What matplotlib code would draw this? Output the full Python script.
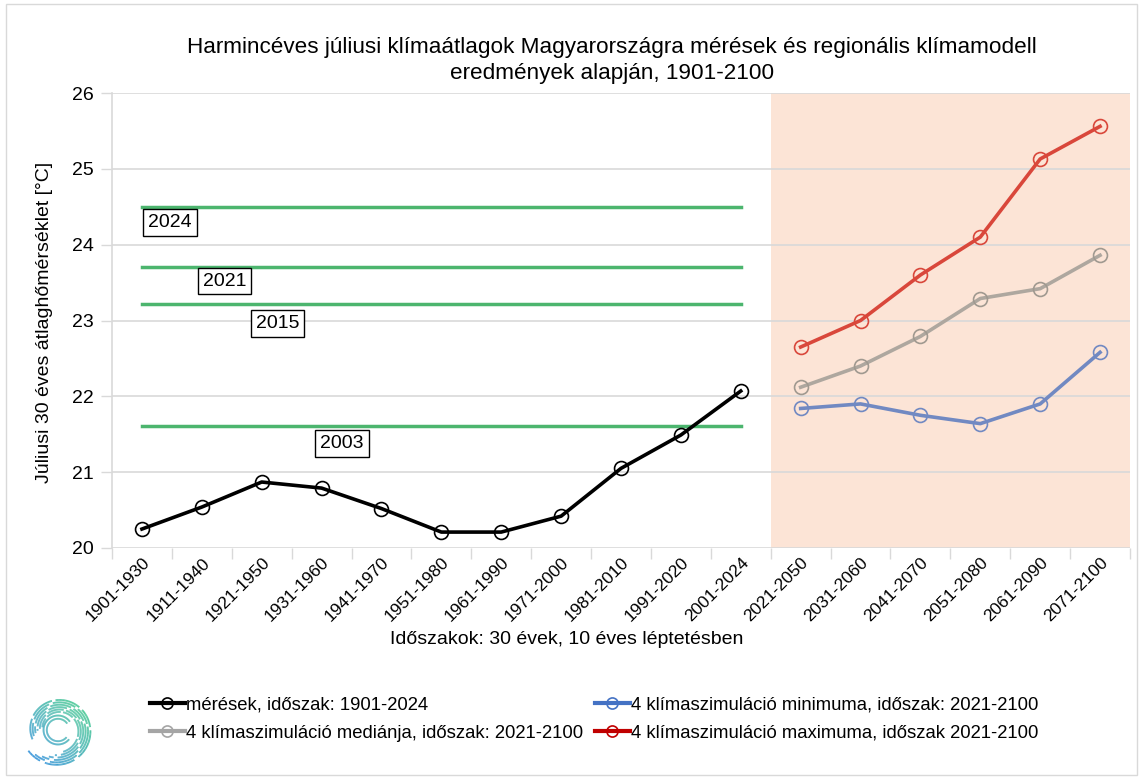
import numpy as np
import matplotlib
matplotlib.use("Agg")
import matplotlib.pyplot as plt
from matplotlib.lines import Line2D
from matplotlib.patches import Rectangle

plt.rcParams['font.family'] = ['Liberation Sans', 'DejaVu Sans']

categories = ["1901-1930", "1911-1940", "1921-1950", "1931-1960", "1941-1970",
              "1951-1980", "1961-1990", "1971-2000", "1981-2010", "1991-2020",
              "2001-2024", "2021-2050", "2031-2060", "2041-2070", "2051-2080",
              "2061-2090", "2071-2100"]
measured = [20.25, 20.54, 20.87, 20.79, 20.52, 20.21, 20.21, 20.42, 21.05, 21.49, 22.07]
sim_median = [22.12, 22.40, 22.79, 23.29, 23.42, 23.86]
sim_min = [21.84, 21.90, 21.75, 21.64, 21.90, 22.58]
sim_max = [22.65, 23.00, 23.60, 24.10, 25.13, 25.56]
record_years = ["2024", "2021", "2015", "2003"]
record_values = [24.50, 23.71, 23.22, 21.61]
record_label_x = [0.47, 1.38, 2.27, 3.34]     # category index of label centre
record_label_dy = [0.21, 0.19, 0.26, 0.23]    # label offset below line
y_ticks = [20, 21, 22, 23, 24, 25, 26]

labels_legend = ["mérések, időszak: 1901-2024",
                 "4 klímaszimuláció mediánja, időszak: 2021-2100",
                 "4 klímaszimuláció minimuma, időszak: 2021-2100",
                 "4 klímaszimuláció maximuma, időszak 2021-2100"]

W, H = 1143, 779
fig = plt.figure(figsize=(W / 100, H / 100), dpi=100)
fig.patches.append(Rectangle((6 / W, 4 / H), 1 - 12 / W, 1 - 8 / H, transform=fig.transFigure,
                             fill=False, ec="#d9d9d9", lw=1))

ax = fig.add_axes([112 / W, 1 - 548 / H, (1130 - 112) / W, (548 - 93) / H])
n = len(categories)
ax.set_xlim(-0.5, n - 0.5)
ax.set_ylim(20, 26)

nm = len(measured)
x_meas = np.arange(nm)
x_fut = np.arange(nm, n)

ax.axvspan(nm - 0.5, n - 0.5, color="#fce4d6", zorder=0, lw=0)
for yv in y_ticks:
    ax.axhline(yv, color="#d9d9d9", lw=1.2, zorder=1)

for s in ["top", "right", "bottom"]:
    ax.spines[s].set_visible(False)
ax.spines["left"].set_color("#d9d9d9")
ax.spines["left"].set_linewidth(1.2)

ax.set_yticks(y_ticks)
ax.set_yticklabels([str(v) for v in y_ticks], fontsize=14)
ax.tick_params(axis="y", length=8, color="#d9d9d9", width=1, pad=5)

ax.set_xticks(np.arange(n))
ax.set_xticklabels(categories, rotation=45, ha="right", rotation_mode="anchor", fontsize=12.5)
ax.tick_params(axis="x", length=0, pad=5)
ax.set_xticks(np.arange(-0.5, n, 1.0), minor=True)
ax.tick_params(axis="x", which="minor", length=8, color="#d9d9d9", width=1)

green = "#4cb56e"
for yr, val, lx, dy in zip(record_years, record_values, record_label_x, record_label_dy):
    ax.plot([0, nm - 1], [val, val], color=green, lw=2.5, zorder=2)
    ax.text(lx, val - dy, yr, ha="center", va="center", fontsize=14, zorder=6,
            bbox=dict(boxstyle="square,pad=0.25", fc="white", ec="black", lw=1))

ax.plot(x_meas, measured, color="black", lw=2.6, marker="o", ms=10, mfc="none",
        mec="black", mew=1.2, zorder=4)
ax.plot(x_fut, sim_median, color="#aea79f", lw=2.6, marker="o", ms=10, mfc="none",
        mec="#a09990", mew=1.2, zorder=4)
ax.plot(x_fut, sim_min, color="#7189c2", lw=2.6, marker="o", ms=10, mfc="none",
        mec="#7189c2", mew=1.2, zorder=4)
ax.plot(x_fut, sim_max, color="#d9473b", lw=2.6, marker="o", ms=10, mfc="none",
        mec="#d9473b", mew=1.2, zorder=4)

fig.text(612 / W, 1 - 47 / H, "Harmincéves júliusi klímaátlagok Magyarországra mérések és regionális klímamodell",
         ha="center", va="center", fontsize=16.2)
fig.text(612 / W, 1 - 73 / H, "eredmények alapján, 1901-2100", ha="center", va="center", fontsize=16.2)

fig.text(45 / W, 1 - 322 / H, "Júliusi 30 éves átlaghőmérséklet [°C]", rotation=90,
         ha="center", va="center", fontsize=14)
fig.text(567 / W, 1 - 639 / H, "Időszakok: 30 évek, 10 éves léptetésben", ha="center", va="center",
         fontsize=14)

def handle(color, mec):
    return Line2D([], [], color=color, lw=3, marker="o", ms=8, mfc="none", mec=mec, mew=1.2)

h1 = [handle("black", "black"), handle("#a5a5a5", "#a5a5a5")]
h2 = [handle("#4472c4", "#4472c4"), handle("#c00000", "#c00000")]
fig.legend(h1, labels_legend[:2], loc="upper left", bbox_to_anchor=(133 / W, 1 - 680 / H),
           frameon=False, fontsize=13.3, handlelength=1.9, handletextpad=0.05, labelspacing=0.6)
fig.legend(h2, labels_legend[2:], loc="upper left", bbox_to_anchor=(578 / W, 1 - 680 / H),
           frameon=False, fontsize=13.3, handlelength=1.9, handletextpad=0.05, labelspacing=0.6)

# logo (decorative spiral)
lax = fig.add_axes([20 / W, 1 - 770 / H, 76 / W, 80 / H])
lax.set_xlim(-1.05, 1.05)
lax.set_ylim(-1.1, 1.1)
lax.set_aspect("equal")
lax.axis("off")
c0 = np.array([0x2e, 0x90, 0xd8]) / 255
c1 = np.array([0x3c, 0xc8, 0x88]) / 255
gaps = [(-120, -112), (-60, -54), (0, 5), (40, 46), (95, 101), (150, 156)]
for k in range(6):
    th0, th1 = -145 + 12 * k, 200 - 6 * k
    t = np.linspace(th0, th1, 240)
    r = 1.0 - 0.075 * k - 0.25 * (t - th0) / 345.0
    keep = np.ones_like(t, dtype=bool)
    for g0, g1 in gaps:
        keep &= ~((t > g0 + 7 * k) & (t < g1 + 7 * k))
    tr = np.radians(t)
    xs, ys = r * np.cos(tr), r * np.sin(tr)
    for i in range(len(t) - 1):
        if keep[i] and keep[i + 1]:
            f = np.clip((xs[i] + ys[i] + 1.4) / 2.8, 0, 1)
            lax.plot(xs[i:i + 2], ys[i:i + 2], color=c0 * (1 - f) + c1 * f, lw=1.3,
                     solid_capstyle="butt")
t = np.radians(np.linspace(35, 320, 120))
for rr in (0.40, 0.31):
    xs, ys = rr * np.cos(t), rr * np.sin(t)
    for i in range(len(t) - 1):
        f = np.clip((xs[i] + ys[i] + 1.4) / 2.8, 0, 1)
        lax.plot(xs[i:i + 2], ys[i:i + 2], color=c0 * (1 - f) + c1 * f, lw=1.3,
                 solid_capstyle="butt")

fig.savefig("out.png", dpi=100)
